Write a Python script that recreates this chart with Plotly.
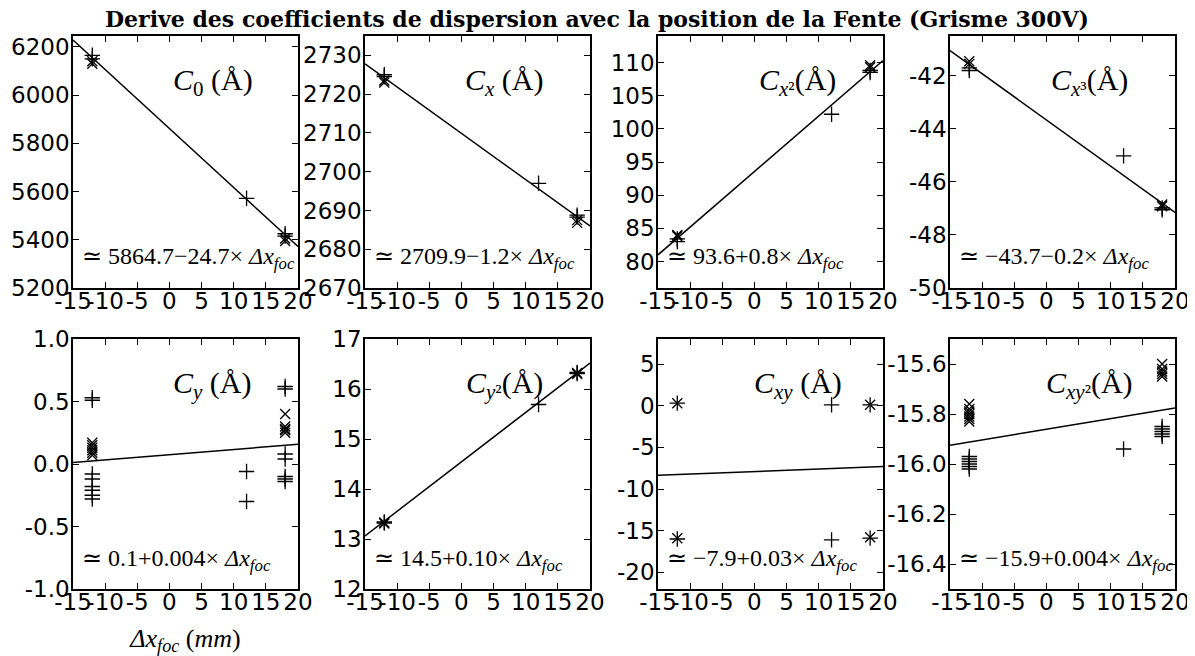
import plotly.graph_objects as go
from plotly.subplots import make_subplots

TITLE = "Derive des coefficients de dispersion avec la position de la Fente (Grisme 300V)"

labels = [
    "<i>C</i><sub>0</sub> (Å)", "<i>C</i><sub><i>x</i></sub> (Å)",
    "<i>C</i><sub><i>x</i>²</sub>(Å)", "<i>C</i><sub><i>x</i>³</sub>(Å)",
    "<i>C</i><sub><i>y</i></sub> (Å)", "<i>C</i><sub><i>y</i>²</sub>(Å)",
    "<i>C</i><sub><i>xy</i></sub> (Å)", "<i>C</i><sub><i>xy</i>²</sub>(Å)",
]
fits = [
    "≃ 5864.7−24.7×", "≃ 2709.9−1.2×", "≃ 93.6+0.8×", "≃ −43.7−0.2×",
    "≃ 0.1+0.004×", "≃ 14.5+0.10×", "≃ −7.9+0.03×", "≃ −15.9+0.004×",
]

# + markers
plus_x = [
    [-12, -12, 12, 18, 18],
    [-12, -12, 12, 18, 18],
    [-12, -12, 12, 18, 18],
    [-12, -12, 12, 18, 18],
    [-12] * 8 + [12, 12] + [18] * 7,
    [-12, -12, 12, 18, 18],
    [-12, -12, 12, 12, 18, 18],
    [-12] * 6 + [12] + [18] * 5,
]
plus_y = [
    [6165, 6150, 5572, 5425, 5415],
    [2725, 2724.5, 2697, 2688.8, 2688.3],
    [83.0, 83.4, 102.2, 108.5, 108.8],
    [-41.7, -41.8, -45.02, -46.98, -47.05],
    [0.53, 0.51, -0.08, -0.12, -0.18, -0.21, -0.25, -0.28, -0.06, -0.30,
     0.62, 0.60, 0.08, 0.04, -0.10, -0.12, -0.14],
    [13.34, 13.32, 15.69, 16.33, 16.31],
    [0.3, -16.0, 0.1, -16.1, 0.1, -15.9],
    [-15.97, -15.98, -15.99, -16.0, -16.01, -16.02, -15.94,
     -15.85, -15.86, -15.87, -15.88, -15.89],
]
# x markers
cross_x = [
    [-12, -12, 18, 18],
    [-12, -12, 18, 18],
    [-12, -12, 18, 18],
    [-12, -12, 18, 18],
    [-12] * 6 + [18] * 5,
    [-12, -12, 18, 18],
    [-12, -12, 18, 18],
    [-12] * 7 + [18] * 5,
]
cross_y = [
    [6140, 6130, 5405, 5395],
    [2723.5, 2723, 2687.5, 2686.8],
    [84.0, 83.8, 109.6, 109.3],
    [-41.45, -41.55, -46.85, -46.92],
    [0.17, 0.15, 0.13, 0.11, 0.09, 0.07, 0.40, 0.30, 0.28, 0.27, 0.25],
    [13.33, 13.31, 16.32, 16.30],
    [0.3, -15.9, 0.1, -15.8],
    [-15.76, -15.78, -15.79, -15.80, -15.81, -15.82, -15.83,
     -15.60, -15.62, -15.63, -15.64, -15.65],
]
# fitted line, read at x = -15 and x = 20
line_x = [-15, 20]
line_y = [
    [6228, 5372], [2727.8, 2686], [81.0, 110.3], [-41.05, -47.15],
    [0.011, 0.158], [13.06, 16.52], [-8.36, -7.3], [-15.925, -15.776],
]
y_ranges = [
    [5200, 6245], [2670, 2735], [76, 114], [-50, -40.5],
    [-1, 1], [12, 17], [-22, 8], [-16.5, -15.5],
]
y_ticks = [
    [5200, 5400, 5600, 5800, 6000, 6200],
    [2670, 2680, 2690, 2700, 2710, 2720, 2730],
    [80, 85, 90, 95, 100, 105, 110],
    [-50, -48, -46, -44, -42],
    [-1.0, -0.5, 0.0, 0.5, 1.0],
    [12, 13, 14, 15, 16, 17],
    [-20, -15, -10, -5, 0, 5],
    [-16.4, -16.2, -16.0, -15.8, -15.6],
]
y_fmt = ["{:.0f}", "{:.0f}", "{:.0f}", "{:.0f}", "{:.1f}", "{:.0f}", "{:.0f}", "{:.1f}"]
x_ticks = [-15, -10, -5, 0, 5, 10, 15, 20]

# page body has an 8px margin, so the figure is shifted by that much
OFF = 8
W, H = 1195 - OFF, 656 - OFF
col_px = [(73, 298), (365, 590), (658, 883), (950, 1175)]
row_px = [(36, 288), (339, 589)]

fig = make_subplots(rows=2, cols=4)
tick_font = dict(family="DejaVu Sans", size=23, color="black")
ann_font = "Liberation Serif"

for i in range(8):
    r, c = i // 4 + 1, i % 4 + 1
    x0, x1 = col_px[c - 1]
    y0, y1 = row_px[r - 1]
    fig.add_scatter(x=plus_x[i], y=plus_y[i], mode="markers", row=r, col=c,
                    marker=dict(symbol="cross-thin", size=11,
                                line=dict(color="black", width=1.3)))
    fig.add_scatter(x=cross_x[i], y=cross_y[i], mode="markers", row=r, col=c,
                    marker=dict(symbol="x-thin", size=10,
                                line=dict(color="black", width=1.3)))
    fig.add_scatter(x=line_x, y=line_y[i], mode="lines", row=r, col=c,
                    line=dict(color="black", width=1.5))
    fig.update_xaxes(domain=[(x0 - OFF) / W, (x1 - OFF) / W], range=[-15, 20],
                     tickvals=x_ticks, ticktext=[str(v) for v in x_ticks],
                     row=r, col=c)
    fig.update_yaxes(domain=[1 - (y1 - OFF) / H, 1 - (y0 - OFF) / H],
                     range=y_ranges[i], tickvals=y_ticks[i],
                     ticktext=[y_fmt[i].format(v) for v in y_ticks[i]],
                     row=r, col=c)
    sfx = "" if i == 0 else str(i + 1)
    fig.add_annotation(xref="x" + sfx + " domain", yref="y" + sfx + " domain",
                       x=0.62, y=0.90, text=labels[i], showarrow=False,
                       font=dict(family=ann_font, size=30, color="black"))
    fig.add_annotation(xref="x" + sfx + " domain", yref="y" + sfx + " domain",
                       x=0.03, y=0.05, xanchor="left",
                       text=fits[i] + " <i>Δx</i><sub><i>foc</i></sub>",
                       showarrow=False,
                       font=dict(family=ann_font, size=24, color="black"))

axis_style = dict(showgrid=False, zeroline=False, showline=True, linecolor="black",
                  linewidth=1.5, mirror="allticks", ticks="inside", ticklen=6,
                  tickcolor="black", tickfont=tick_font, automargin=False)
fig.update_xaxes(tickangle=0, ticklabelstandoff=-8, **axis_style)
fig.update_yaxes(ticklabelstandoff=-3, **axis_style)
fig.update_xaxes(title=dict(text="<i>Δx</i><sub><i>foc</i></sub> (<i>mm</i>)",
                            font=dict(family=ann_font, size=26, color="black"),
                            standoff=16), row=2, col=1)

fig.update_layout(
    width=W, height=H, showlegend=False,
    margin=dict(l=0, r=0, t=0, b=0),
    paper_bgcolor="white", plot_bgcolor="white",
    title=dict(text="<b>" + TITLE + "</b>", x=(597 - OFF) / W, xanchor="center",
               y=1 - 11 / H, yanchor="middle",
               font=dict(family="DejaVu Serif", size=22, color="black")),
)
fig.write_html("out.html")
